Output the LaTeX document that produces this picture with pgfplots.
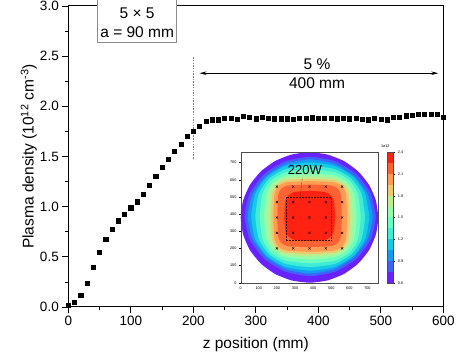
\documentclass[border=0pt]{standalone}
\usepackage{fontspec}
\setmainfont{Liberation Sans}
\usepackage{pgfplots}
\pgfplotsset{compat=1.18}
\usetikzlibrary{calc,arrows.meta}
\pgfplotsset{/pgf/number format/assume math mode=true}
\definecolor{rb0}{RGB}{106,33,255}
\definecolor{rb1}{RGB}{64,98,250}
\definecolor{rb2}{RGB}{21,155,241}
\definecolor{rb3}{RGB}{21,202,229}
\definecolor{rb4}{RGB}{64,236,212}
\definecolor{rb5}{RGB}{106,253,192}
\definecolor{rb6}{RGB}{149,253,168}
\definecolor{rb7}{RGB}{191,236,142}
\definecolor{rb8}{RGB}{234,202,113}
\definecolor{rb9}{RGB}{255,155,82}
\definecolor{rb10}{RGB}{255,98,50}
\definecolor{rb11}{RGB}{255,33,17}
\begin{document}
\begin{tikzpicture}
\begin{axis}[name=main, scale only axis, width=375pt, height=301pt,
  xmin=0, xmax=600, ymin=0, ymax=3,
  xtick={0,100,...,600}, ytick={0,0.5,1,1.5,2,2.5,3},
  minor x tick num=1, minor y tick num=1,
  tick align=outside, xtick pos=bottom, ytick pos=left,
  major tick length=6pt, minor tick length=3.5pt,
  tick style={black, line width=0.8pt},
  axis line style={line width=1pt},
  yticklabel style={/pgf/number format/.cd, fixed, fixed zerofill, precision=1},
  tick label style={font=\fontsize{13.5}{16}\selectfont},
  label style={font=\fontsize{15.5}{18}\selectfont},
  xlabel={z position (mm)}, ylabel={Plasma density (10\textsuperscript{12} cm\textsuperscript{-3})},
  xlabel style={at={(axis description cs:0.5,-0.126)}, anchor=center},
  ylabel style={at={(axis description cs:-0.105,0.5)}, anchor=center},
  clip=false]
\addplot[only marks, mark=square*, mark size=2.1pt, black] coordinates {
(0,0.02)(10,0.047)(20,0.117)(30,0.24)(40,0.40)(50,0.55)(60,0.675)(70,0.775)(80,0.86)(90,0.927)
(100,0.99)(110,1.05)(120,1.127)(130,1.21)(140,1.30)(150,1.39)(160,1.47)(170,1.55)(180,1.625)(190,1.70)
(200,1.755)(210,1.805)(220,1.848)(230,1.866)(240,1.866)(250,1.880)(260,1.880)(270,1.874)(280,1.902)(290,1.893)
(300,1.876)(310,1.889)(320,1.880)(330,1.877)(340,1.877)(350,1.877)(360,1.874)(370,1.880)(380,1.884)(390,1.886)
(400,1.880)(410,1.880)(420,1.880)(430,1.877)(440,1.880)(450,1.877)(460,1.884)(470,1.870)(480,1.867)(490,1.884)
(500,1.870)(510,1.867)(520,1.893)(530,1.893)(540,1.906)(550,1.913)(560,1.919)(570,1.919)(580,1.919)(590,1.919)
(600,1.89)};
\draw[black!45, line width=0.9pt, fill=white] (axis cs:47,2.635) rectangle (axis cs:173.4,3.15);
\node[font=\fontsize{15.5}{18}\selectfont] at (axis cs:110.2,2.928) {5 × 5};
\node[font=\fontsize{15.5}{18}\selectfont] at (axis cs:110.2,2.739) {a = 90 mm};
\draw[black!50, line width=0.9pt, dash pattern=on 1.5pt off 1.2pt] (axis cs:200,1.48) -- (axis cs:200,2.5);
\draw[{Stealth[length=7pt,width=3.5pt]}-{Stealth[length=7pt,width=3.5pt]}, line width=0.7pt] (axis cs:210,2.33) -- (axis cs:592,2.33);
\node[font=\fontsize{15.5}{18}\selectfont] at (axis cs:398,2.418) {5 \%};
\node[font=\fontsize{15.5}{18}\selectfont] at (axis cs:398,2.23) {400 mm};
\end{axis}
\begin{axis}[at={($(main.south west)+(172.4pt,24.3pt)$)}, anchor=south west,
  scale only axis, width=137.6pt, height=130.4pt,
  xmin=0, xmax=760, ymin=0, ymax=760,
  xtick={0,100,...,700}, ytick={0,100,...,700},
  tick align=outside, xtick pos=bottom, ytick pos=left,
  major tick length=1.5pt,
  tick style={black, line width=0.3pt},
  axis line style={line width=0.35pt, black!70},
  tick label style={font=\fontsize{3.8}{4}\selectfont},
  xticklabel style={yshift=0.8pt}, yticklabel style={xshift=0.8pt},
  axis on top, clip=false]
\addplot[fill=rb0, draw=none, smooth, tension=0.34] coordinates {(760,380)(747,478.3)(709.1,570)(648.7,648.7)(570,709.1)(478.3,747)(380,760)(281.7,747)(190,709.1)(111.3,648.7)(50.9,570)(13,478.3)(0,380)(13,281.7)(50.9,190)(111.3,111.3)(190,50.9)(281.7,13)(380,0)(478.3,13)(570,50.9)(648.7,111.3)(709.1,190)(747,281.7)(760,380)(747,478.3)};
\addplot[fill=rb1, draw=none, smooth, tension=0.34] coordinates {(746,386)(718.5,519.3)(639.9,632.0)(522.6,707.6)(384,734)(245.4,707.6)(128.1,632.0)(49.5,519.3)(22,386)(49.5,252.7)(128.1,140.0)(245.4,64.4)(384,38)(522.6,64.4)(639.9,140.0)(718.5,252.7)(746,386)(718.5,519.3)};
\addplot[fill=rb2, draw=none, smooth, tension=0.34] coordinates {(729,386)(702.8,513.5)(627.9,621.4)(516.1,693.7)(384,719)(251.9,693.7)(140.1,621.4)(65.2,513.5)(39,386)(65.2,258.5)(140.1,150.6)(251.9,78.3)(384,53)(516.1,78.3)(627.9,150.6)(702.8,258.5)(729,386)(702.8,513.5)};
\addplot[fill=rb3, draw=none, smooth, tension=0.34] coordinates {(710,386)(687.5,518.1)(622,616.7)(520.3,680.2)(384,702)(247.7,680.2)(146,616.7)(80.5,518.1)(58,386)(80.5,253.9)(146,155.3)(247.7,91.8)(384,70)(520.3,91.8)(622,155.3)(687.5,253.9)(710,386)(687.5,518.1)};
\addplot[fill=rb4, draw=none, smooth, tension=0.34] coordinates {(687,386)(667.6,518.5)(611,607)(520,662.1)(384,681)(248,662.1)(157,607)(100.4,518.5)(81,386)(100.4,253.5)(157,165)(248,109.9)(384,91)(520,109.9)(611,165)(667.6,253.5)(687,386)(667.6,518.5)};
\addplot[fill=rb5, draw=none, smooth, tension=0.34] coordinates {(663,386)(647.1,520)(599.9,597.3)(521,643.4)(384,659)(247,643.4)(168.1,597.3)(120.9,520)(105,386)(120.9,252)(168.1,174.7)(247,128.6)(384,113)(521,128.6)(599.9,174.7)(647.1,252)(663,386)(647.1,520)};
\addplot[fill=rb6, draw=none, smooth, tension=0.34] coordinates {(639,386)(626,518.3)(586.5,585.3)(518.4,624.2)(384,637)(249.6,624.2)(181.5,585.3)(142,518.3)(129,386)(142,253.7)(181.5,186.7)(249.6,147.8)(384,135)(518.4,147.8)(586.5,186.7)(626,253.7)(639,386)(626,518.3)};
\addplot[fill=rb7, draw=none, smooth, tension=0.34] coordinates {(619,386)(608.7,520.7)(576.7,577.1)(519.8,608.7)(384,619)(248.2,608.7)(191.3,577.1)(159.3,520.7)(149,386)(159.3,251.3)(191.3,194.9)(248.2,163.3)(384,153)(519.8,163.3)(576.7,194.9)(608.7,251.3)(619,386)(608.7,520.7)};
\addplot[fill=rb8, draw=none, smooth, tension=0.34] coordinates {(603,386)(594.5,521.6)(568.2,570.2)(519.6,596.5)(384,605)(248.4,596.5)(199.8,570.2)(173.5,521.6)(165,386)(173.5,250.4)(199.8,201.8)(248.4,175.5)(384,167)(519.6,175.5)(568.2,201.8)(594.5,250.4)(603,386)(594.5,521.6)};
\addplot[fill=rb9, draw=none, smooth, tension=0.34] coordinates {(588,386)(580.9,520.5)(558.8,562.5)(517.2,584.8)(384,592)(250.8,584.8)(209.2,562.5)(187.1,520.5)(180,386)(187.1,251.5)(209.2,209.5)(250.8,187.2)(384,180)(517.2,187.2)(558.8,209.5)(580.9,251.5)(588,386)(580.9,520.5)};
\addplot[fill=rb10, draw=none, smooth, tension=0.34] coordinates {(558,390)(552.5,513.9)(535,548.5)(501.2,566.4)(380,572)(258.8,566.4)(225,548.5)(207.5,513.9)(202,390)(207.5,266.1)(225,231.5)(258.8,213.6)(380,208)(501.2,213.6)(535,231.5)(552.5,266.1)(558,390)(552.5,513.9)};
\addplot[fill=rb11, draw=none, smooth, tension=0.34] coordinates {(521,389)(515.1,475.9)(497.1,510)(464.3,528.9)(381,535)(297.7,528.9)(264.9,510)(246.9,475.9)(241,389)(246.9,302.1)(264.9,268)(297.7,249.1)(381,243)(464.3,249.1)(497.1,268)(515.1,302.1)(521,389)(515.1,475.9)};
\addplot[black!80!red, densely dotted, line width=0.5pt] coordinates {(250,250)(500,250)(500,500)(250,500)(250,250)};
\addplot[black, densely dotted, line width=0.4pt] coordinates {(340,612)(330,505)};
\addplot[only marks, mark=x, mark size=1.5pt, black, line width=0.4pt] coordinates {
(200,200)(290,200)(380,200)(470,200)(560,200)
(200,290)(290,290)(380,290)(470,290)(560,290)
(200,380)(290,380)(380,380)(470,380)(560,380)
(200,470)(290,470)(380,470)(470,470)(560,470)
(200,560)(290,560)(380,560)(470,560)(560,560)};
\node[font=\fontsize{13}{15}\selectfont] at (axis cs:355,657) {220W};
\end{axis}
\begin{axis}[at={($(main.south west)+(318.4pt,24.3pt)$)}, anchor=south west,
  scale only axis, width=6.6pt, height=130.4pt,
  xmin=0, xmax=1, ymin=0.6, ymax=2.4,
  xtick=\empty, ytick={0.6,0.9,1.2,1.5,1.8,2.1,2.4},
  ytick pos=right, yticklabel pos=right,
  tick align=outside, major tick length=1.5pt,
  tick style={black, line width=0.3pt},
  axis line style={line width=0.3pt, black!70},
  yticklabel style={font=\fontsize{3.8}{4}\selectfont, xshift=-0.5pt, /pgf/number format/.cd, fixed, fixed zerofill, precision=1},
  axis on top, clip=false]
\addplot[fill=rb0, draw=none] coordinates {(0,0.6)(1,0.6)(1,0.75)(0,0.75)};
\addplot[fill=rb1, draw=none] coordinates {(0,0.75)(1,0.75)(1,0.9)(0,0.9)};
\addplot[fill=rb2, draw=none] coordinates {(0,0.9)(1,0.9)(1,1.05)(0,1.05)};
\addplot[fill=rb3, draw=none] coordinates {(0,1.05)(1,1.05)(1,1.2)(0,1.2)};
\addplot[fill=rb4, draw=none] coordinates {(0,1.2)(1,1.2)(1,1.35)(0,1.35)};
\addplot[fill=rb5, draw=none] coordinates {(0,1.35)(1,1.35)(1,1.5)(0,1.5)};
\addplot[fill=rb6, draw=none] coordinates {(0,1.5)(1,1.5)(1,1.65)(0,1.65)};
\addplot[fill=rb7, draw=none] coordinates {(0,1.65)(1,1.65)(1,1.8)(0,1.8)};
\addplot[fill=rb8, draw=none] coordinates {(0,1.8)(1,1.8)(1,1.95)(0,1.95)};
\addplot[fill=rb9, draw=none] coordinates {(0,1.95)(1,1.95)(1,2.1)(0,2.1)};
\addplot[fill=rb10, draw=none] coordinates {(0,2.1)(1,2.1)(1,2.25)(0,2.25)};
\addplot[fill=rb11, draw=none] coordinates {(0,2.25)(1,2.25)(1,2.4)(0,2.4)};
\node[font=\fontsize{3.8}{4}\selectfont, anchor=south] at (axis description cs:-0.2,1.01) {1e12};
\end{axis}
\pgfresetboundingbox
\path[use as bounding box] ([shift={(-68.3pt,-48pt)}]main.south west) rectangle ([shift={(30.7pt,6pt)}]main.north east);
\end{tikzpicture}
\end{document}
